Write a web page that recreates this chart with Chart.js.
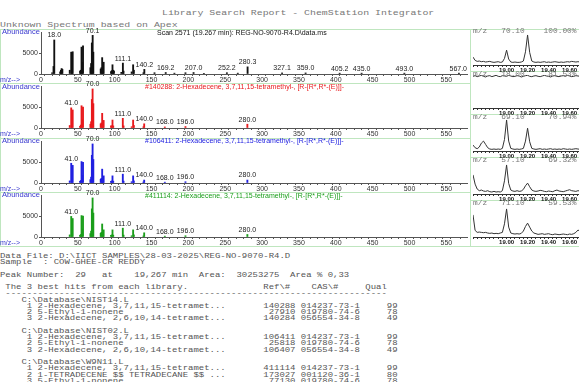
<!DOCTYPE html>
<html>
<head>
<meta charset="utf-8">
<script src="https://cdn.jsdelivr.net/npm/chart.js@4.4.1/dist/chart.umd.min.js"></script>
<style>
  html, body { margin: 0; padding: 0; background: #fff; }
  #page { position: relative; width: 579px; height: 382px; overflow: hidden; background: #fff; }
  .t { position: absolute; white-space: pre; line-height: 1; transform-origin: 0 50%; }
  .mono { font-family: "Liberation Mono", "DejaVu Sans Mono", monospace; }
  .sans { font-family: "Liberation Sans", Arial, sans-serif; }
  .gl { position: absolute; background: #bfe6bf; }
  canvas { position: absolute; }
  #report { position: absolute; left: 0; top: 252.9px; margin: 0; font-family: "Liberation Mono", monospace;
            font-size: 7px; line-height: 6.25px; color: #555; transform: scaleX(1.279); transform-origin: 0 0; }
</style>
</head>
<body>
<div id="page"></div>
<script>
// unknown spectrum (scan 2571)
const UNKNOWN_MZ = [15, 17, 18, 26, 27, 28, 29, 39, 41, 42, 43, 53, 54, 55, 56, 57, 67, 68, 69, 70.1, 71,
  81, 82, 83, 84, 85, 95, 96, 97, 98, 99, 109, 111.1, 112, 123, 125, 126, 139, 140.2, 154, 169.2, 181, 196,
  207.0, 221, 252.2, 267, 280.3, 327.1, 359.0, 405.2, 435.0, 493.0, 567.0];
const UNKNOWN_ABUND = [300, 1800, 8100, 500, 900, 1300, 1100, 900, 5200, 1600, 5300, 700, 900, 6400, 2800, 6700,
  1500, 2500, 7400, 9200, 5200, 1200, 1500, 3900, 2200, 2800, 600, 800, 2200, 900, 700, 400, 2600, 700, 500,
  2200, 900, 300, 1100, 300, 350, 200, 300, 350, 150, 300, 200, 1700, 250, 250, 200, 200, 200, 200];
const UNKNOWN_PEAKS = [18.0, 70.1, 111.1, 140.2, 169.2, 207.0, 252.2, 280.3, 327.1, 359.0, 405.2, 435.0, 493.0, 567.0];

// library hits
const LIB_MZ = [39, 41, 42, 43, 53, 54, 55, 56, 57, 67, 68, 69, 70, 71, 81, 82, 83, 84, 85, 95, 96, 97, 98,
  111, 112, 123, 125, 126, 139, 140, 168, 196, 280];
const REF_140288 = [600, 4800, 900, 4300, 400, 700, 5300, 2000, 5000, 900, 1500, 6800, 9300, 5800, 1000, 1200,
  3500, 1700, 1800, 500, 500, 1900, 500, 2300, 500, 300, 1900, 600, 300, 1000, 250, 350, 900];
const REF_106411 = [500, 4700, 800, 4200, 400, 600, 5100, 1800, 4900, 800, 1400, 6600, 9300, 5600, 900, 1100,
  3300, 1500, 1700, 400, 500, 1700, 450, 2100, 450, 300, 1700, 500, 250, 700, 200, 300, 700];
const REF_411114 = [500, 4900, 800, 4400, 400, 600, 5100, 1900, 5000, 800, 1400, 6700, 9300, 5700, 900, 1100,
  3100, 1500, 1700, 400, 500, 1700, 450, 2100, 450, 300, 1700, 500, 250, 1000, 200, 300, 600];
const LIB_PEAKS = [41.0, 70.0, 111.0, 140.0, 168.0, 196.0, 280.0];
const ABUND_TICKS = [0, 5000];

// extracted ion chromatograms
const TIME = [18.68, 18.70, 18.72, 18.74, 18.76, 18.78, 18.80, 18.82, 18.84, 18.86,
  18.88, 18.90, 18.92, 18.94, 18.96, 18.98, 19.00, 19.02, 19.04, 19.06,
  19.08, 19.10, 19.12, 19.14, 19.16, 19.18, 19.20, 19.22, 19.24, 19.26,
  19.28, 19.30, 19.32, 19.34, 19.36, 19.38, 19.40, 19.42, 19.44, 19.46,
  19.48, 19.50, 19.52, 19.54, 19.56, 19.58, 19.60, 19.62, 19.64, 19.66, 19.68, 19.70];
const EIC_70 = [24, 14, 11, 12, 10, 11, 9, 10, 11, 9, 8, 9, 10, 8, 9, 20, 45, 18, 9, 8,
  9, 8, 8, 9, 12, 40, 91, 38, 12, 9, 8, 9, 8, 9, 10, 8, 9, 8, 9, 10, 9, 8, 9, 8, 9, 10, 9, 11, 10, 9, 10, 9];
const EIC_18 = [96, 98, 95, 97, 99, 96, 94, 97, 98, 95, 97, 99, 96, 95, 98, 97, 96, 99, 97, 95,
  96, 98, 97, 94, 96, 98, 99, 96, 95, 97, 98, 96, 95, 97, 99, 97, 96, 94, 97, 98, 96, 95, 97, 98, 96, 99, 97, 95, 96, 98, 97, 96];
const EIC_69 = [18, 10, 7, 12, 24, 30, 20, 10, 6, 5, 6, 5, 6, 5, 8, 35, 94, 30, 8, 6,
  5, 6, 5, 6, 8, 30, 69, 28, 8, 6, 5, 6, 7, 5, 6, 5, 6, 7, 5, 6, 5, 6, 5, 7, 6, 5, 6, 5, 6, 7, 6, 5];
const EIC_57 = [58, 30, 15, 10, 12, 9, 8, 10, 7, 6, 8, 6, 7, 6, 10, 40, 88, 32, 12, 9,
  8, 10, 8, 9, 14, 25, 33, 22, 12, 9, 8, 9, 11, 10, 8, 7, 9, 8, 7, 10, 12, 9, 8, 7, 9, 11, 13, 10, 9, 8, 10, 9];
const EIC_71 = [67, 20, 14, 15, 14, 13, 14, 12, 11, 12, 10, 11, 10, 12, 14, 40, 85, 30, 12, 10,
  9, 10, 9, 11, 18, 32, 42, 30, 18, 12, 10, 8, 9, 10, 8, 9, 10, 8, 7, 9, 8, 7, 8, 9, 8, 7, 9, 8, 10, 14, 21, 18];
const EIC_IONS = ['70.10', '18.00', '69.10', '57.10', '71.10'];
const EIC_PCT = ['100.00%', '81.53%', '70.94%', '69.32%', '59.53%'];
const TIME_LABELS = [19.0, 19.2, 19.4, 19.6];

const HITS = [
  ['C:\\Database\\NIST14.L', [
    [1, '2-Hexadecene, 3,7,11,15-tetramet...', 140288, '014237-73-1', 99],
    [2, '5-Ethyl-1-nonene', 27910, '019780-74-6', 78],
    [3, '2-Hexadecene, 2,6,10,14-tetramet...', 140284, '056554-34-8', 49]]],
  ['C:\\Database\\NIST02.L', [
    [1, '2-Hexadecene, 3,7,11,15-tetramet...', 106411, '014237-73-1', 99],
    [2, '5-Ethyl-1-nonene', 25818, '019780-74-6', 78],
    [3, '2-Hexadecene, 2,6,10,14-tetramet...', 106407, '056554-34-8', 49]]],
  ['C:\\Database\\W9N11.L', [
    [1, '2-Hexadecene, 3,7,11,15-tetramet...', 411114, '014237-73-1', 99],
    [2, '1-TETRADECENE $$ TETRADECANE $$ ...', 173027, '001120-36-1', 80],
    [3, '5-Ethyl-1-nonene', 77130, '019780-74-6', 78]]]
];

Chart.defaults.font.family = '"Liberation Sans", Arial, sans-serif';
const page = document.getElementById('page');

function text(str, x, cy, cls, size, color, sx, weight) {
  const d = document.createElement('div');
  d.className = 't ' + cls;
  d.textContent = str;
  d.style.left = x + 'px';
  d.style.top = (cy - size / 2) + 'px';
  d.style.fontSize = size + 'px';
  d.style.height = size + 'px';
  d.style.color = color;
  if (weight) d.style.fontWeight = weight;
  d.style.transform = 'scaleX(' + (sx || 1) + ')';
  page.appendChild(d);
}
function line(x, y, w, h) {
  const d = document.createElement('div');
  d.className = 'gl';
  d.style.left = x + 'px'; d.style.top = y + 'px';
  d.style.width = w + 'px'; d.style.height = h + 'px';
  page.appendChild(d);
}

// labels over the peaks
const peakLabels = {
  id: 'peakLabels',
  afterDatasetsDraw(chart, args, opts) {
    const { ctx, chartArea } = chart;
    const x = chart.scales.x, y = chart.scales.y;
    const pts = chart.data.datasets[0].data;
    ctx.save();
    ctx.font = '7px "Liberation Sans", Arial, sans-serif';
    ctx.fillStyle = '#222';
    ctx.textAlign = 'center';
    ctx.textBaseline = 'bottom';
    opts.marks.forEach(m => {
      let top = 0;
      pts.forEach(p => { if (Math.abs(p.x - m) < 0.6) top = Math.max(top, p.y); });
      const s = m.toFixed(1);
      const w = ctx.measureText(s).width;
      const px = Math.min(x.getPixelForValue(m), chartArea.right - w / 2);
      ctx.fillText(s, px, y.getPixelForValue(top) - 1);
    });
    ctx.restore();
  }
};

function spectrum(top, mz, ab, color, peaks) {
  const base = top + 45;
  const cv = document.createElement('canvas');
  cv.width = 470; cv.height = 62;
  cv.style.left = '0px'; cv.style.top = (base - 52) + 'px';
  page.appendChild(cv);
  new Chart(cv, {
    type: 'bar',
    data: { datasets: [{ data: mz.map((m, i) => ({ x: m, y: ab[i] })), backgroundColor: color, barThickness: 1.2 }] },
    options: {
      responsive: false, animation: false,
      layout: { padding: { top: 10, right: 3, left: 0, bottom: 0 } },
      plugins: { legend: { display: false }, tooltip: { enabled: false }, peakLabels: { marks: peaks } },
      scales: {
        x: {
          type: 'linear', min: 0, max: 578, offset: false,
          afterFit: s => { s.height = 10; },
          grid: { drawOnChartArea: false, tickLength: 2, color: '#555' },
          border: { color: '#555' },
          ticks: { stepSize: 10, autoSkip: false, maxRotation: 0, padding: 0, color: '#333', font: { size: 7 },
            callback: v => (v % 50 === 0 ? String(v) : '') }
        },
        y: {
          min: 0, max: 10000,
          afterFit: s => { s.width = 41; },
          afterBuildTicks: s => { s.ticks = ABUND_TICKS.map(v => ({ value: v })); },
          grid: { drawOnChartArea: false, tickLength: 2, color: '#555' },
          border: { color: '#555' },
          ticks: { padding: 1, color: '#333', font: { size: 7 }, callback: v => String(v) }
        }
      }
    },
    plugins: [peakLabels]
  });
  text('Abundance', 2, top + 3.2, 'sans', 7.5, '#3a3acf');
  text('m/z-->', 0, base + 5.5, 'sans', 7, '#3a3acf');
}

function eic(i, vals) {
  const top = 28 + 43 * i;
  const cv = document.createElement('canvas');
  cv.width = 130; cv.height = 45;
  cv.style.left = '470px'; cv.style.top = top + 'px';
  page.appendChild(cv);
  new Chart(cv, {
    type: 'line',
    data: { datasets: [{ data: TIME.map((t, k) => ({ x: t, y: vals[k] })), borderColor: '#333', borderWidth: 1,
      pointRadius: 0, tension: 0 }] },
    options: {
      responsive: false, animation: false,
      layout: { padding: { left: 3, top: 4, right: 0, bottom: 0 } },
      plugins: { legend: { display: false }, tooltip: { enabled: false } },
      scales: {
        x: {
          type: 'linear', min: 18.68, max: 19.89,
          afterFit: s => { s.height = 8; },
          afterBuildTicks: s => {
            const t = [];
            for (let k = 0; k <= 30; k++) t.push({ value: 18.68 + k * 0.04 });
            s.ticks = t;
          },
          grid: { drawOnChartArea: false, tickLength: 2, color: '#333' },
          border: { color: '#333' },
          ticks: { autoSkip: false, maxRotation: 0, padding: 0, color: '#111', font: { size: 6, weight: 'bold' },
            callback: v => { const l = TIME_LABELS.find(L => Math.abs(L - v) < 0.005); return l ? l.toFixed(2) : ''; } }
        },
        y: { display: false, min: 0, max: 100 }
      }
    }
  });
  text('m/z   ' + EIC_IONS[i] + EIC_PCT[i].padStart(11), 473, top + 3.5, 'mono', 7, '#777', 1.12);
}

// frame lines
const TOPS = [29, 83.3, 137.6, 192];
line(0, 29, 579, 1);
line(0, 246.3, 579, 1);
TOPS.slice(1).forEach(t => line(0, t, 470, 1));
[71, 114, 157, 200].forEach(t => line(470, t, 109, 1));
line(470, 29, 1, 218);
line(0, 29, 1, 218);

// header text
text('Library Search Report - ChemStation Integrator', 162, 12.5, 'mono', 8, '#777', 1.233);
text('Unknown Spectrum based on Apex', 0, 25, 'mono', 8, '#777', 1.233);

spectrum(TOPS[0], UNKNOWN_MZ, UNKNOWN_ABUND, '#111', UNKNOWN_PEAKS);
spectrum(TOPS[1], LIB_MZ, REF_140288, '#e8191c', LIB_PEAKS);
spectrum(TOPS[2], LIB_MZ, REF_106411, '#2020e0', LIB_PEAKS);
spectrum(TOPS[3], LIB_MZ, REF_411114, '#1a9e1a', LIB_PEAKS);

text('Scan 2571 (19.267 min): REG-NO-9070-R4.D\\data.ms', 157, TOPS[0] + 3.2, 'sans', 7, '#111');
text('#140288: 2-Hexadecene, 3,7,11,15-tetramethyl-, [R-[R*,R*-(E)]]-', 145, TOPS[1] + 3.2, 'sans', 7, '#e8191c');
text('#106411: 2-Hexadecene, 3,7,11,15-tetramethyl-, [R-[R*,R*-(E)]]-', 145, TOPS[2] + 3.2, 'sans', 7, '#2020e0');
text('#411114: 2-Hexadecene, 3,7,11,15-tetramethyl-, [R-[R*,R*-(E)]]-', 145, TOPS[3] + 3.2, 'sans', 7, '#1a9e1a');

[EIC_70, EIC_18, EIC_69, EIC_57, EIC_71].forEach((v, i) => eic(i, v));

// report text
const rows = [
  'Data File: D:\\IICT SAMPLES\\28-03-2025\\REG-NO-9070-R4.D',
  'Sample  : COW-GHEE-CR REDDY',
  '',
  'Peak Number:  29   at    19,267 min  Area:  30253275  Area % 0,33',
  '',
  ' The 3 best hits from each library.'.padEnd(49) + 'Ref\\#    CAS\\#     Qual',
  ' ' + '-'.repeat(71)
];
HITS.forEach((lib, j) => {
  rows.push('    ' + lib[0]);
  lib[1].forEach(h => rows.push('     ' + h[0] + ' ' + h[1].padEnd(36) + String(h[2]).padStart(12) + ' ' + h[3] + String(h[4]).padStart(7)));
  if (j < HITS.length - 1) rows.push('');
});
const pre = document.createElement('pre');
pre.id = 'report';
pre.textContent = rows.join('\n');
page.appendChild(pre);
</script>
</body>
</html>
